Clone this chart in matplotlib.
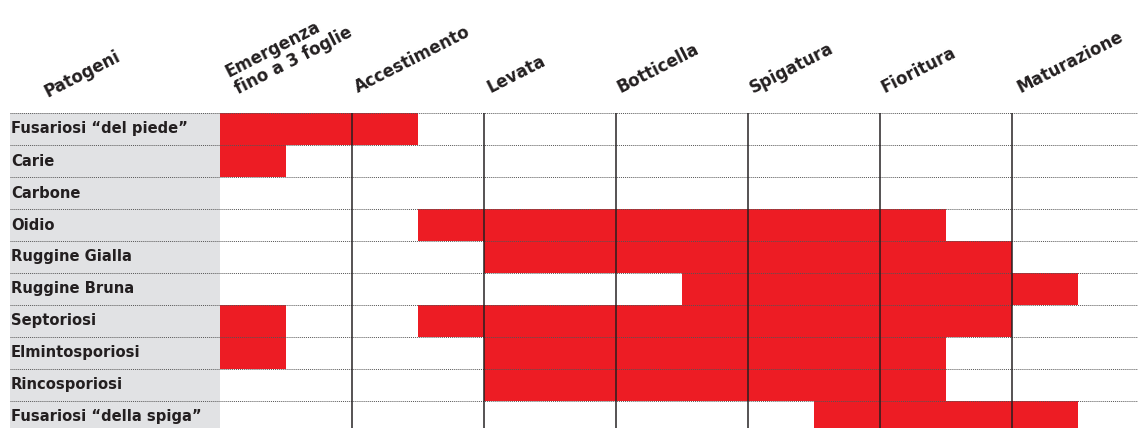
import matplotlib.pyplot as plt

plt.rcParams['font.family'] = ['DejaVu Sans']

stages = ['Emergenza\nfino a 3 foglie', 'Accestimento', 'Levata', 'Botticella',
          'Spigatura', 'Fioritura', 'Maturazione']

pathogens = ['Fusariosi “del piede”', 'Carie', 'Carbone', 'Oidio', 'Ruggine Gialla',
             'Ruggine Bruna', 'Septoriosi', 'Elmintosporiosi', 'Rincosporiosi',
             'Fusariosi “della spiga”']

# periodi di rischio in mezze fasi (inizio, fine)
periods = [
    [(0, 3)],
    [(0, 1)],
    [],
    [(3, 11)],
    [(4, 12)],
    [(7, 13)],
    [(0, 1), (3, 12)],
    [(0, 1), (4, 11)],
    [(4, 11)],
    [(9, 13)],
]

red = '#ed1c24'
grey = '#e1e2e4'
ink = '#231f20'

W, H = 1138, 428
fig = plt.figure(figsize=(W / 100, H / 100), dpi=100)
# 1 unita' x = mezza fase = 66 px, 1 unita' y = una riga = 32 px
ax = fig.add_axes([10 / W, 0, (W - 10) / W, 315 / H])
ax.set_xlim(-210 / 66, (W - 220) / 66)
ax.set_ylim(315 / 32, 0)
ax.axis('off')

n = len(pathogens)
x_left = -210 / 66
ax.barh(range(n), [-x_left] * n, left=x_left, height=1, align='edge', color=grey, zorder=0)

for i, segs in enumerate(periods):
    for s, e in segs:
        ax.barh(i, e - s, left=s, height=1, align='edge', color=red, zorder=1)

for i in range(n + 1):
    ax.axhline(i, color='#555555', lw=0.7, ls=(0, (1, 1)), zorder=2)

for j in range(1, len(stages)):
    ax.axvline(2 * j, ymin=0, ymax=1, color=ink, lw=1.2, alpha=0.9, zorder=3)

for i, name in enumerate(pathogens):
    ax.text(x_left + 1 / 66, i + 0.5, name, ha='left', va='center',
            fontsize=10.6, fontweight='bold', color=ink)

hdr_dx = [17, 6, 6, 5, 5, 5, 8]
for j, st in enumerate(stages):
    ax.text(2 * j + hdr_dx[j] / 66, -20 / 32, st, rotation=27, rotation_mode='anchor',
            ha='left', va='baseline', fontsize=12, fontweight='bold', color=ink,
            linespacing=1.15, clip_on=False)

ax.text((48 - 220) / 66, -16 / 32, 'Patogeni', rotation=27, rotation_mode='anchor',
        ha='left', va='baseline', fontsize=12, fontweight='bold', color=ink, clip_on=False)

fig.savefig('out.png', dpi=100)
